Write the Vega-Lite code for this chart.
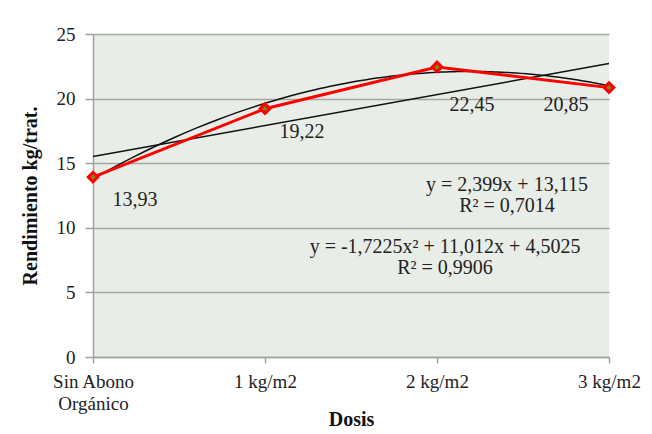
{
  "$schema": "https://vega.github.io/schema/vega-lite/v6.json",
  "width": 516,
  "height": 323,
  "autosize": "none",
  "padding": {"left": 93, "top": 34, "right": 43, "bottom": 77},
  "background": "white",
  "config": {
    "locale": {"number": {"decimal": ",", "thousands": ".", "grouping": [3], "currency": ["", ""]}},
    "view": {"fill": "#e9ede7", "stroke": null},
    "font": "'Liberation Serif', 'Times New Roman', Times, serif",
    "text": {"font": "'Liberation Serif', 'Times New Roman', Times, serif"},
    "axis": {
      "labelFont": "'Liberation Serif', 'Times New Roman', Times, serif",
      "labelFontSize": 19,
      "labelColor": "#222222",
      "labelFlush": false,
      "labelOverlap": false,
      "titleFont": "'Liberation Serif', 'Times New Roman', Times, serif",
      "titleFontSize": 20,
      "titleFontWeight": "bold",
      "titleColor": "#111111",
      "domainColor": "#a0a0a0",
      "tickColor": "#a0a0a0",
      "gridColor": "#a6a6a6",
      "domainWidth": 1.5,
      "tickWidth": 1.5,
      "gridWidth": 1.5
    }
  },
  "data": {
    "values": [
      {"x": 1, "value": 13.93},
      {"x": 2, "value": 19.22},
      {"x": 3, "value": 22.45},
      {"x": 4, "value": 20.85}
    ]
  },
  "encoding": {
    "x": {
      "field": "x",
      "type": "quantitative",
      "scale": {"domain": [1, 4], "nice": false, "zero": false},
      "axis": {
        "values": [1, 2, 3, 4],
        "grid": false,
        "tickSize": 6,
        "labelPadding": 9,
        "labelLineHeight": 22,
        "labelFlush": false,
        "labelExpr": "datum.value == 1 ? ['Sin Abono', 'Orgánico'] : datum.value == 2 ? '1 kg/m2' : datum.value == 3 ? '2 kg/m2' : '3 kg/m2'",
        "title": "Dosis",
        "titlePadding": -4
      }
    },
    "y": {
      "field": "value",
      "type": "quantitative",
      "scale": {"domain": [0, 25], "nice": false},
      "axis": {
        "values": [0, 5, 10, 15, 20, 25],
        "tickSize": 8,
        "labelPadding": 10,
        "labelFlush": false,
        "domain": true,
        "title": "Rendimiento kg/trat.",
        "titlePadding": 16
      }
    }
  },
  "layer": [
    {
      "transform": [{"regression": "value", "on": "x", "method": "poly", "order": 2, "extent": [1, 4]}],
      "mark": {"type": "line", "color": "#111111", "strokeWidth": 1.5, "interpolate": "monotone"}
    },
    {
      "transform": [{"regression": "value", "on": "x", "method": "linear", "extent": [1, 4]}],
      "mark": {"type": "line", "color": "#111111", "strokeWidth": 1.5}
    },
    {
      "mark": {"type": "line", "color": "#ff0000", "strokeWidth": 3}
    },
    {
      "mark": {"type": "point", "shape": "diamond", "filled": true, "fill": "#7a8a20", "stroke": "#ff0000", "strokeWidth": 3, "size": 90, "opacity": 1}
    },
    {
      "transform": [{"filter": "datum.x == 1"}],
      "mark": {"type": "text", "dx": 42, "dy": 23, "fontSize": 20, "color": "#222222"},
      "encoding": {"text": {"field": "value", "type": "quantitative", "format": ".2f"}}
    },
    {
      "transform": [{"filter": "datum.x == 2"}],
      "mark": {"type": "text", "dx": 37, "dy": 23, "fontSize": 20, "color": "#222222"},
      "encoding": {"text": {"field": "value", "type": "quantitative", "format": ".2f"}}
    },
    {
      "transform": [{"filter": "datum.x == 3"}],
      "mark": {"type": "text", "dx": 35, "dy": 38, "fontSize": 20, "color": "#222222"},
      "encoding": {"text": {"field": "value", "type": "quantitative", "format": ".2f"}}
    },
    {
      "transform": [{"filter": "datum.x == 4"}],
      "mark": {"type": "text", "dx": -43, "dy": 17, "fontSize": 20, "color": "#222222"},
      "encoding": {"text": {"field": "value", "type": "quantitative", "format": ".2f"}}
    },
    {
      "transform": [{"filter": "datum.x == 4"}],
      "mark": {"type": "text", "fontSize": 20, "color": "#222222", "lineHeight": 21, "baseline": "middle", "align": "center", "dx": -102, "dy": 97,
        "text": ["y = 2,399x + 13,115", "R² = 0,7014"]}
    },
    {
      "transform": [{"filter": "datum.x == 4"}],
      "mark": {"type": "text", "fontSize": 20, "color": "#222222", "lineHeight": 21, "baseline": "middle", "align": "center", "dx": -164, "dy": 159,
        "text": ["y = -1,7225x² + 11,012x + 4,5025", "R² = 0,9906"]}
    }
  ]
}
